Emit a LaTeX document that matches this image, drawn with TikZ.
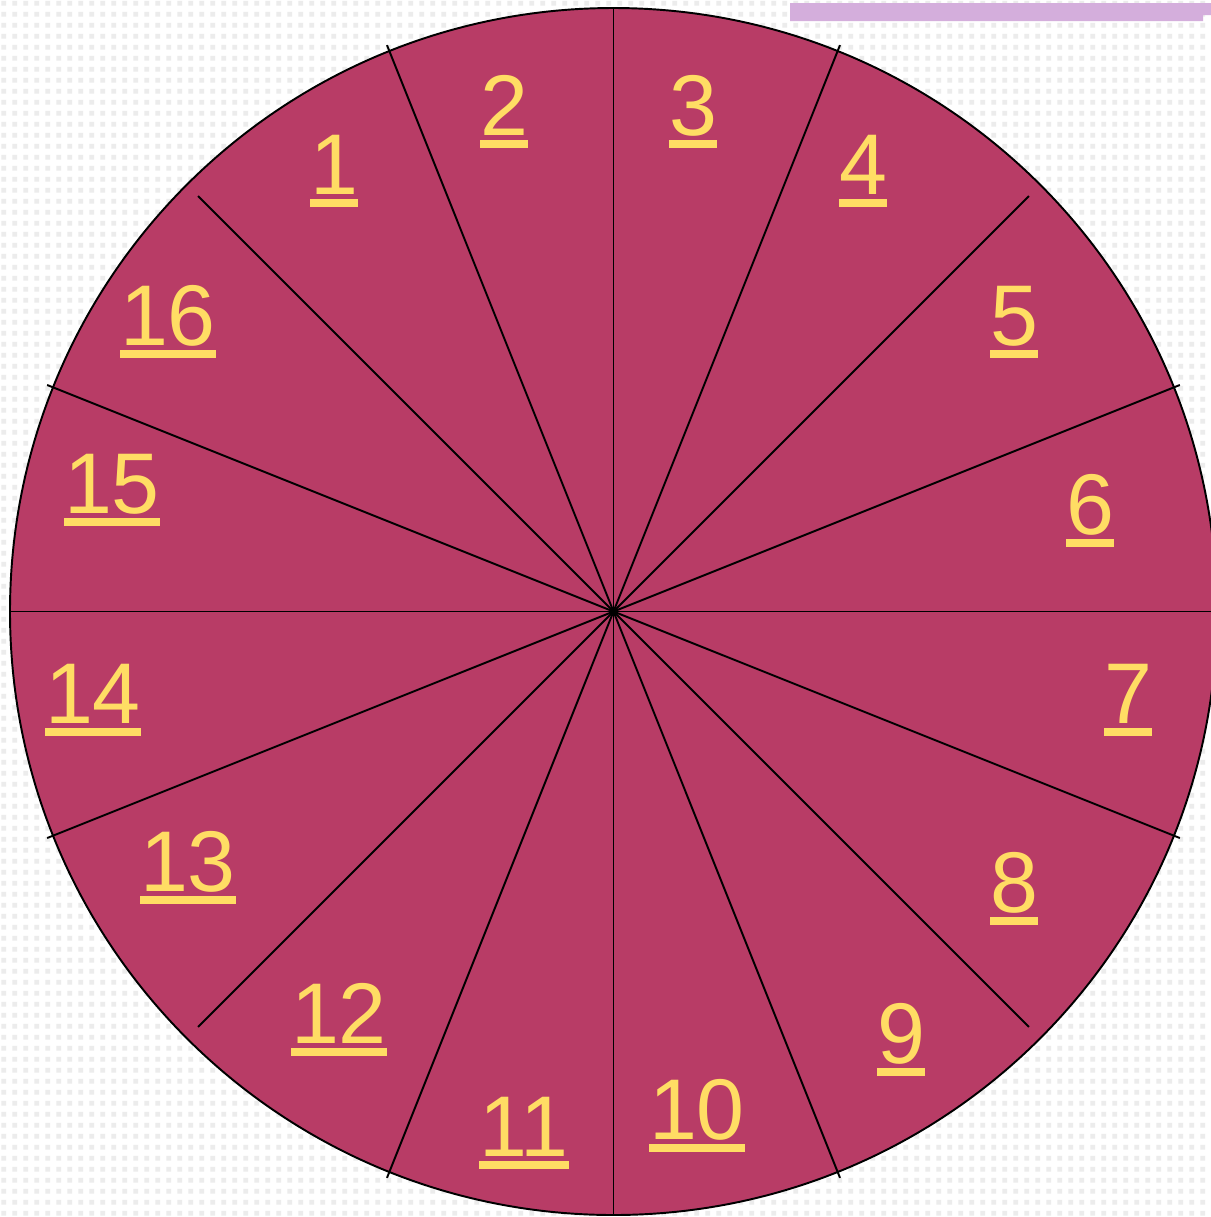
\documentclass[tikz,border=0pt]{standalone}
\usepackage{fontspec}
\setmainfont{Liberation Sans}
\usetikzlibrary{calc,patterns.meta}
\definecolor{wine}{HTML}{B83C66}
\definecolor{straw}{HTML}{FFDD64}
\definecolor{lilac}{HTML}{D4AEDC}
\definecolor{dotgrey}{HTML}{ECECEC}

\tikzdeclarepattern{
  name=paperdots,
  type=colored,
  bottom left={(0pt,0pt)},
  top right={(3.13pt,3.13pt)},
  tile size={(3.13pt,3.13pt)},
  code={\fill[dotgrey] (0.7pt,0.7pt) rectangle (2.2pt,2.2pt);}
}
\newcommand\ulnum[1]{\setbox0=\hbox{#1}\rlap{\rule[-0.13cm]{\wd0}{0.08cm}}\box0}
\tikzset{
  seglabel/.style={text=straw,anchor=base,inner sep=0pt,font=\fontsize{24.5}{29}\selectfont},
  spoke/.style={draw=black,line width=0.55pt}
}

\begin{document}
\begin{tikzpicture}[x=0.01cm,y=-0.01cm]
  \clip (0,0) rectangle (1211,1217);
  \fill[white] (0,0) rectangle (1211,1217);
  \fill[pattern=paperdots] (0,0) rectangle (1211,1217);
  \fill[lilac] (790,3) -- (1211,3) -- (1211,15) -- (1203,15) -- (1203,21) -- (790,21) -- cycle;

  % wheel
  \coordinate (c) at (613.5,611.5);
  \filldraw[fill=wine,draw=black,line width=0.55pt] (c) circle [radius=603.5];
  \draw[spoke] ($(c)+(0:603.5)$) -- ($(c)+(180:603.5)$);
  \draw[spoke] ($(c)+(21.8:610)$) -- ($(c)+(201.8:610)$);
  \draw[spoke] ($(c)+(45:587.5)$) -- ($(c)+(225:587.5)$);
  \draw[spoke] ($(c)+(68.2:610)$) -- ($(c)+(248.2:610)$);
  \draw[spoke] ($(c)+(90:603.5)$) -- ($(c)+(270:603.5)$);
  \draw[spoke] ($(c)+(111.8:610)$) -- ($(c)+(291.8:610)$);
  \draw[spoke] ($(c)+(135:587.5)$) -- ($(c)+(315:587.5)$);
  \draw[spoke] ($(c)+(158.2:610)$) -- ($(c)+(338.2:610)$);

  % numbers
  \node[seglabel] (n1) at (334,194) {\ulnum{1}};
  \node[seglabel] (n2) at (504,135) {\ulnum{2}};
  \node[seglabel] (n3) at (693,135) {\ulnum{3}};
  \node[seglabel] (n4) at (863,194) {\ulnum{4}};
  \node[seglabel] (n5) at (1014,345) {\ulnum{5}};
  \node[seglabel] (n6) at (1090,534) {\ulnum{6}};
  \node[seglabel] (n7) at (1128,723) {\ulnum{7}};
  \node[seglabel] (n8) at (1014,912) {\ulnum{8}};
  \node[seglabel] (n9) at (901,1063) {\ulnum{9}};
  \node[seglabel] (n10) at (697,1139) {\ulnum{10}};
  \node[seglabel] (n11) at (524,1156) {\ulnum{11}};
  \node[seglabel] (n12) at (339,1043) {\ulnum{12}};
  \node[seglabel] (n13) at (188,891) {\ulnum{13}};
  \node[seglabel] (n14) at (93,723) {\ulnum{14}};
  \node[seglabel] (n15) at (112,513) {\ulnum{15}};
  \node[seglabel] (n16) at (168,345) {\ulnum{16}};
\end{tikzpicture}
\end{document}
